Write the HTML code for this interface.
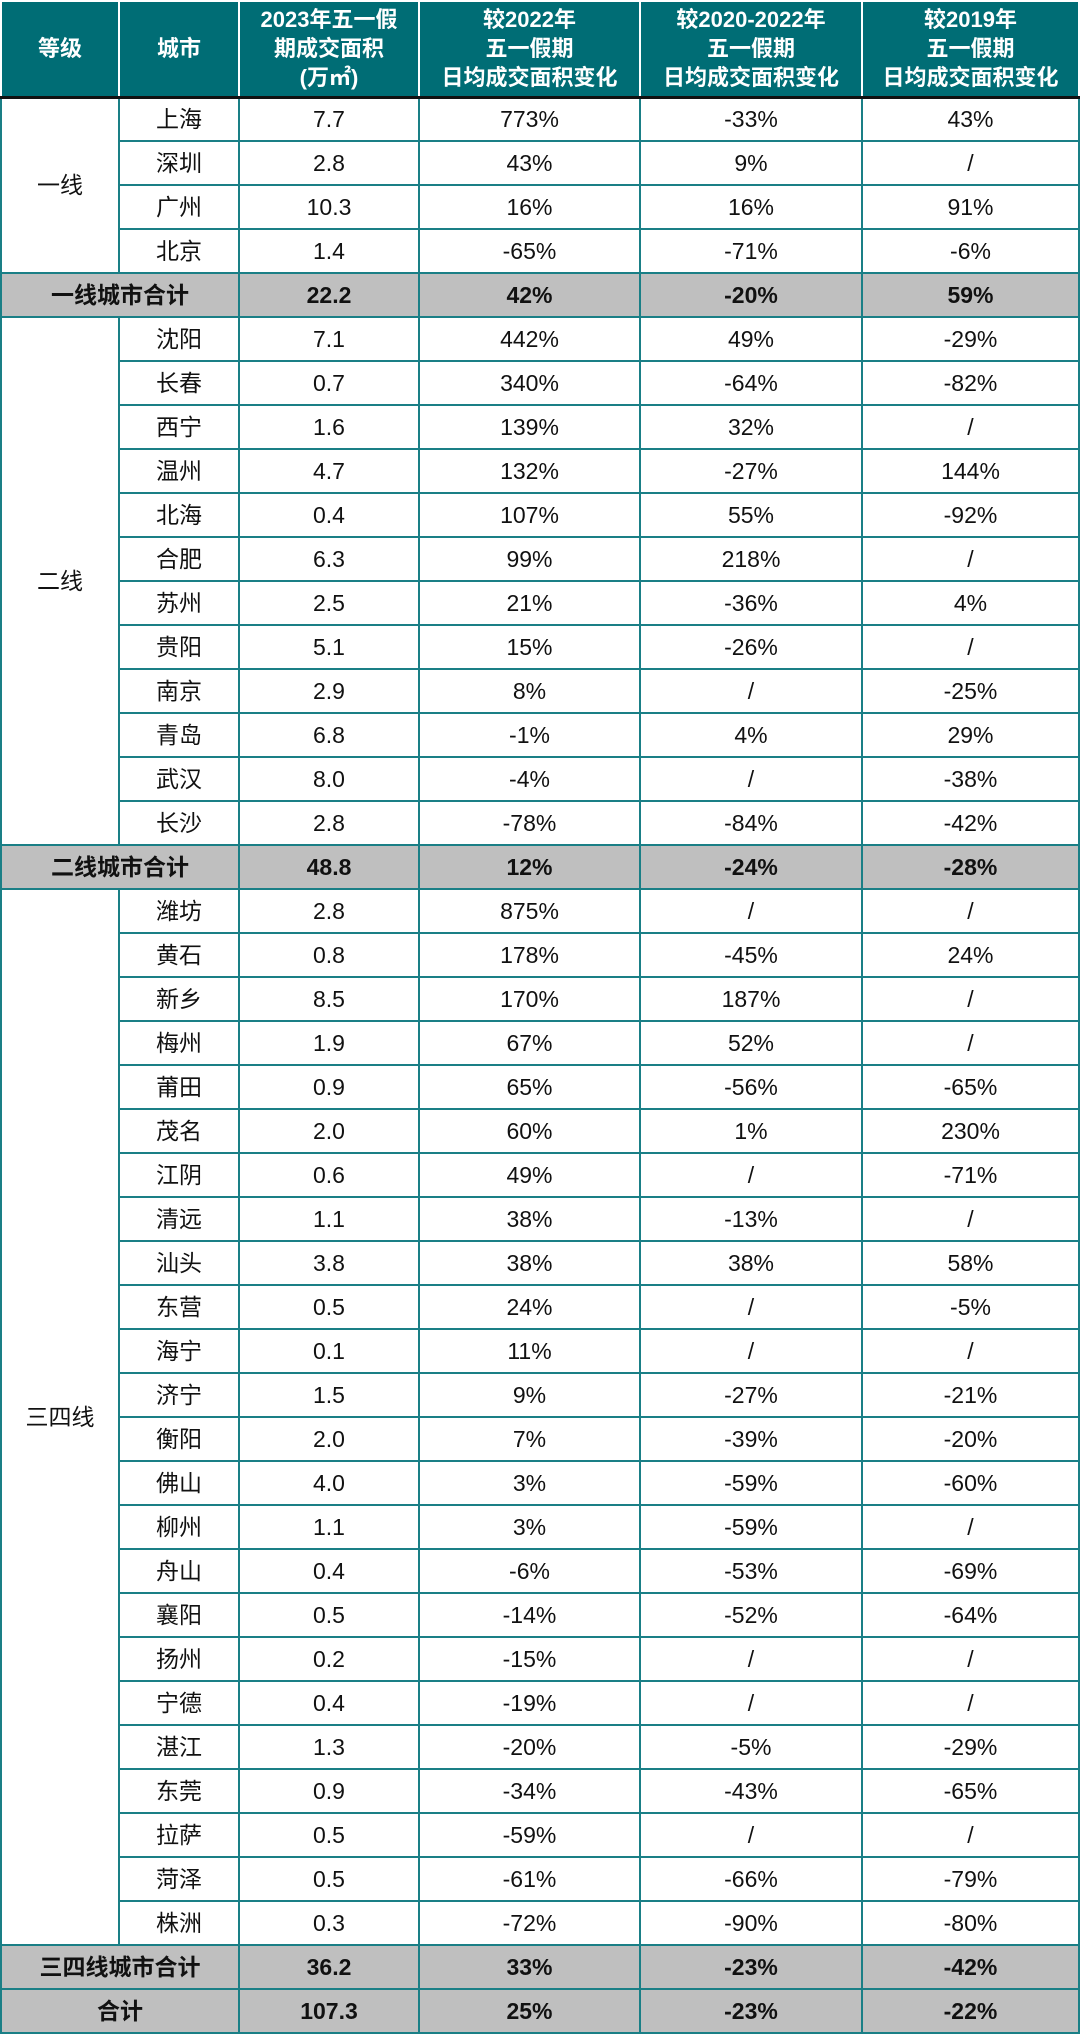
<!DOCTYPE html>
<html><head><meta charset="utf-8"><style>
html,body{margin:0;padding:0;background:#fff;width:1080px;height:2035px;overflow:hidden}
table{border-collapse:collapse;table-layout:fixed;width:1078px;font-family:"Liberation Sans","Noto Sans CJK SC",sans-serif;font-size:23px;color:#111}
td,th{border:2px solid #1a7f86;text-align:center;padding:0;box-sizing:border-box;vertical-align:middle;line-height:24px}
tr{height:44px}
tr.h{height:96px}
th{background:#006d75;color:#fff;font-weight:bold;font-size:22px;line-height:29px;border-color:#fff;border-bottom:3px solid #111}
tr.t td{background:#bfbfbf;font-weight:bold}
</style></head><body>
<table>
<colgroup><col style="width:118px"><col style="width:120px"><col style="width:180px"><col style="width:221px"><col style="width:222px"><col style="width:217px"></colgroup>
<tr class="h"><th>等级</th><th>城市</th><th>2023年五一假<br>期成交面积<br>(万㎡)</th><th>较2022年<br>五一假期<br>日均成交面积变化</th><th>较2020-2022年<br>五一假期<br>日均成交面积变化</th><th>较2019年<br>五一假期<br>日均成交面积变化</th></tr>
<tr><td rowspan="4">一线</td><td>上海</td><td>7.7</td><td>773%</td><td>-33%</td><td>43%</td></tr>
<tr><td>深圳</td><td>2.8</td><td>43%</td><td>9%</td><td>/</td></tr>
<tr><td>广州</td><td>10.3</td><td>16%</td><td>16%</td><td>91%</td></tr>
<tr><td>北京</td><td>1.4</td><td>-65%</td><td>-71%</td><td>-6%</td></tr>
<tr class="t"><td colspan="2">一线城市合计</td><td>22.2</td><td>42%</td><td>-20%</td><td>59%</td></tr>
<tr><td rowspan="12">二线</td><td>沈阳</td><td>7.1</td><td>442%</td><td>49%</td><td>-29%</td></tr>
<tr><td>长春</td><td>0.7</td><td>340%</td><td>-64%</td><td>-82%</td></tr>
<tr><td>西宁</td><td>1.6</td><td>139%</td><td>32%</td><td>/</td></tr>
<tr><td>温州</td><td>4.7</td><td>132%</td><td>-27%</td><td>144%</td></tr>
<tr><td>北海</td><td>0.4</td><td>107%</td><td>55%</td><td>-92%</td></tr>
<tr><td>合肥</td><td>6.3</td><td>99%</td><td>218%</td><td>/</td></tr>
<tr><td>苏州</td><td>2.5</td><td>21%</td><td>-36%</td><td>4%</td></tr>
<tr><td>贵阳</td><td>5.1</td><td>15%</td><td>-26%</td><td>/</td></tr>
<tr><td>南京</td><td>2.9</td><td>8%</td><td>/</td><td>-25%</td></tr>
<tr><td>青岛</td><td>6.8</td><td>-1%</td><td>4%</td><td>29%</td></tr>
<tr><td>武汉</td><td>8.0</td><td>-4%</td><td>/</td><td>-38%</td></tr>
<tr><td>长沙</td><td>2.8</td><td>-78%</td><td>-84%</td><td>-42%</td></tr>
<tr class="t"><td colspan="2">二线城市合计</td><td>48.8</td><td>12%</td><td>-24%</td><td>-28%</td></tr>
<tr><td rowspan="24">三四线</td><td>潍坊</td><td>2.8</td><td>875%</td><td>/</td><td>/</td></tr>
<tr><td>黄石</td><td>0.8</td><td>178%</td><td>-45%</td><td>24%</td></tr>
<tr><td>新乡</td><td>8.5</td><td>170%</td><td>187%</td><td>/</td></tr>
<tr><td>梅州</td><td>1.9</td><td>67%</td><td>52%</td><td>/</td></tr>
<tr><td>莆田</td><td>0.9</td><td>65%</td><td>-56%</td><td>-65%</td></tr>
<tr><td>茂名</td><td>2.0</td><td>60%</td><td>1%</td><td>230%</td></tr>
<tr><td>江阴</td><td>0.6</td><td>49%</td><td>/</td><td>-71%</td></tr>
<tr><td>清远</td><td>1.1</td><td>38%</td><td>-13%</td><td>/</td></tr>
<tr><td>汕头</td><td>3.8</td><td>38%</td><td>38%</td><td>58%</td></tr>
<tr><td>东营</td><td>0.5</td><td>24%</td><td>/</td><td>-5%</td></tr>
<tr><td>海宁</td><td>0.1</td><td>11%</td><td>/</td><td>/</td></tr>
<tr><td>济宁</td><td>1.5</td><td>9%</td><td>-27%</td><td>-21%</td></tr>
<tr><td>衡阳</td><td>2.0</td><td>7%</td><td>-39%</td><td>-20%</td></tr>
<tr><td>佛山</td><td>4.0</td><td>3%</td><td>-59%</td><td>-60%</td></tr>
<tr><td>柳州</td><td>1.1</td><td>3%</td><td>-59%</td><td>/</td></tr>
<tr><td>舟山</td><td>0.4</td><td>-6%</td><td>-53%</td><td>-69%</td></tr>
<tr><td>襄阳</td><td>0.5</td><td>-14%</td><td>-52%</td><td>-64%</td></tr>
<tr><td>扬州</td><td>0.2</td><td>-15%</td><td>/</td><td>/</td></tr>
<tr><td>宁德</td><td>0.4</td><td>-19%</td><td>/</td><td>/</td></tr>
<tr><td>湛江</td><td>1.3</td><td>-20%</td><td>-5%</td><td>-29%</td></tr>
<tr><td>东莞</td><td>0.9</td><td>-34%</td><td>-43%</td><td>-65%</td></tr>
<tr><td>拉萨</td><td>0.5</td><td>-59%</td><td>/</td><td>/</td></tr>
<tr><td>菏泽</td><td>0.5</td><td>-61%</td><td>-66%</td><td>-79%</td></tr>
<tr><td>株洲</td><td>0.3</td><td>-72%</td><td>-90%</td><td>-80%</td></tr>
<tr class="t"><td colspan="2">三四线城市合计</td><td>36.2</td><td>33%</td><td>-23%</td><td>-42%</td></tr>
<tr class="t"><td colspan="2">合计</td><td>107.3</td><td>25%</td><td>-23%</td><td>-22%</td></tr>
</table>
</body></html>
